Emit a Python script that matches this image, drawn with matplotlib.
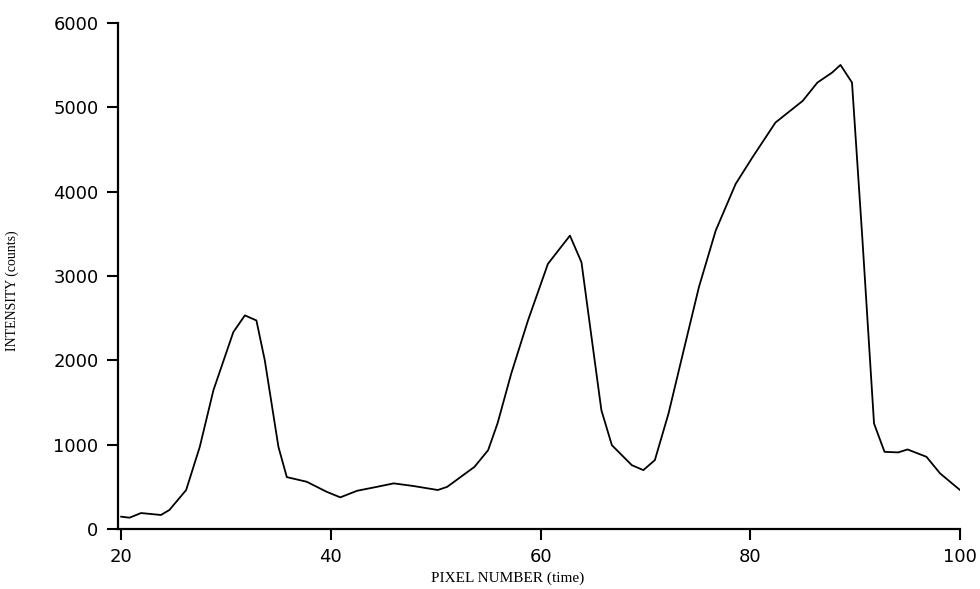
import matplotlib.pyplot as plt

pixel = [20, 20.8, 21.9, 23.8, 24.6, 26.2, 27.5, 28.8, 30.7, 31.8, 32.9, 33.7,
         35.0, 35.8, 37.7, 39.6, 40.9, 42.5, 44.4, 46.0, 47.9, 50.2, 51.1, 53.7,
         55.0, 55.9, 57.2, 58.8, 60.7, 62.8, 63.9, 64.9, 65.8, 66.8, 68.7, 69.8,
         70.9, 72.2, 73.8, 75.1, 76.7, 78.6, 80.2, 82.4, 85.0, 86.4, 87.8, 88.6,
         89.7, 90.7, 91.8, 92.8, 94.1, 95.0, 96.8, 98.1, 100]
counts = [146, 134, 189, 166, 225, 462, 974, 1645, 2335, 2533, 2473, 2000,
          974, 615, 560, 441, 375, 453, 500, 541, 509, 462, 500, 737,
          935, 1254, 1842, 2473, 3144, 3479, 3163, 2237, 1408, 994, 757, 698,
          817, 1369, 2198, 2868, 3538, 4091, 4406, 4820, 5077, 5294, 5412, 5503,
          5294, 3420, 1251, 915, 908, 943, 856, 659, 462]

xticks = [20, 40, 60, 80, 100]
yticks = [0, 1000, 2000, 3000, 4000, 5000, 6000]

fig = plt.figure(figsize=(9.8, 5.89), dpi=100)
ax = fig.add_axes([0.1204, 0.1019, 0.8592, 0.8590])
ax.plot(pixel, counts, c='black', lw=1.3)

ax.set_xlim(19.7, 100)
ax.set_ylim(0, 6000)
ax.set_xticks(xticks)
ax.set_yticks(yticks)
ax.spines['top'].set_visible(False)
ax.spines['right'].set_visible(False)
ax.spines['left'].set_linewidth(1.6)
ax.spines['bottom'].set_linewidth(1.6)
ax.tick_params(direction='out', length=8, width=1.5, labelsize=13, pad=6)
for lab in ax.get_xticklabels() + ax.get_yticklabels():
    lab.set_family('DejaVu Sans')

ax.set_xlabel('PIXEL NUMBER (time)', family='Liberation Serif', fontsize=11)
ax.xaxis.set_label_coords(0.463, -0.084)
ax.set_ylabel('INTENSITY (counts)', family='Liberation Serif', fontsize=10)
ax.yaxis.set_label_coords(-0.118, 0.47)

fig.savefig('out.png', dpi=100)
